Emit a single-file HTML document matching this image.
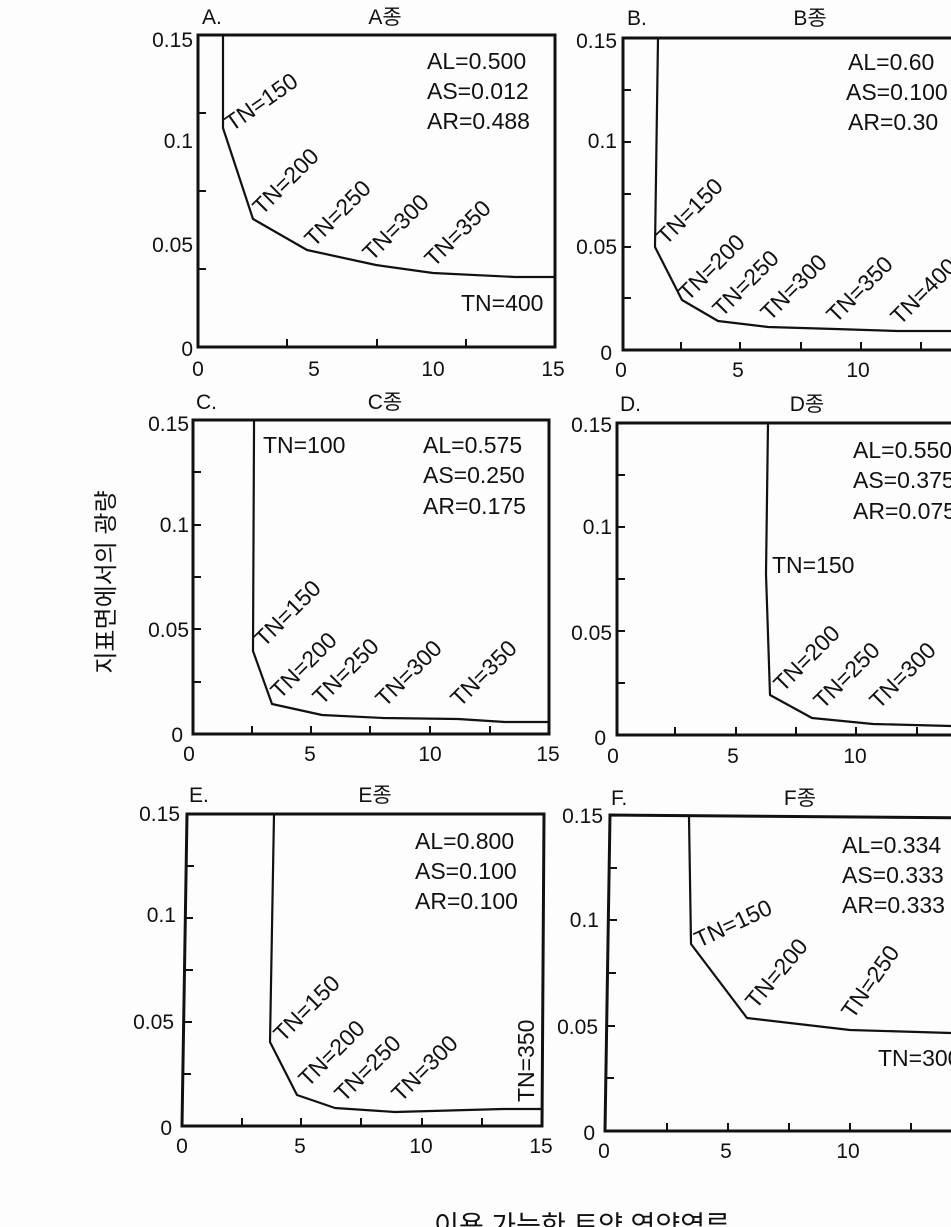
<!DOCTYPE html>
<html><head><meta charset="utf-8"><style>
html,body{margin:0;padding:0;background:#fff;}
svg{display:block;}
text{font-family:"Liberation Sans","Noto Sans CJK KR",sans-serif;fill:#111;}
.ax{font-size:21px;}
.lb{font-size:23px;}
.ttl{font-size:21px;}
.box{fill:none;stroke:#111;stroke-width:3;}
.cv{fill:none;stroke:#111;stroke-width:2.2;stroke-linejoin:round;}
.tk{stroke:#111;stroke-width:2;}
</style></head><body>
<svg width="951" height="1227" viewBox="0 0 951 1227" xmlns="http://www.w3.org/2000/svg">
<rect width="951" height="1227" fill="#fdfdfd"/>

<!-- Panel A -->
<g>
<text class="ttl" x="202" y="24">A.</text>
<text class="ttl" x="385" y="24" text-anchor="middle">A종</text>
<rect class="box" x="198" y="35" width="357" height="312"/>
<g class="tk">
<line x1="287" y1="347" x2="287" y2="339"/><line x1="377" y1="347" x2="377" y2="339"/><line x1="466" y1="347" x2="466" y2="339"/>
<line x1="198" y1="113" x2="206" y2="113"/><line x1="198" y1="191" x2="206" y2="191"/><line x1="198" y1="269" x2="206" y2="269"/>
</g>
<text class="ax" x="193" y="47" text-anchor="end">0.15</text>
<text class="ax" x="193" y="148" text-anchor="end">0.1</text>
<text class="ax" x="193" y="252" text-anchor="end">0.05</text>
<text class="ax" x="193" y="356" text-anchor="end">0</text>
<text class="ax" x="198" y="376" text-anchor="middle">0</text>
<text class="ax" x="314" y="376" text-anchor="middle">5</text>
<text class="ax" x="433" y="376" text-anchor="middle">10</text>
<text class="ax" x="553" y="376" text-anchor="middle">15</text>
<polyline class="cv" points="223,35 223,128 253,219 307,250 376,265 433,273 515,277 554,277"/>
<text class="lb" x="427" y="69">AL=0.500</text>
<text class="lb" x="427" y="99">AS=0.012</text>
<text class="lb" x="427" y="129">AR=0.488</text>
<text class="lb" x="461" y="311">TN=400</text>
<text class="lb" transform="translate(232,132) rotate(-35)">TN=150</text>
<text class="lb" transform="translate(262,216) rotate(-45)">TN=200</text>
<text class="lb" transform="translate(314,248) rotate(-45)">TN=250</text>
<text class="lb" transform="translate(372,262) rotate(-45)">TN=300</text>
<text class="lb" transform="translate(434,268) rotate(-45)">TN=350</text>
</g>

<!-- Panel B -->
<g>
<text class="ttl" x="627" y="25">B.</text>
<text class="ttl" x="810" y="25" text-anchor="middle">B종</text>
<rect class="box" x="623" y="38" width="360" height="312"/>
<g class="tk">
<line x1="681" y1="350" x2="681" y2="342"/><line x1="740" y1="350" x2="740" y2="342"/><line x1="801" y1="350" x2="801" y2="342"/><line x1="861" y1="350" x2="861" y2="342"/><line x1="921" y1="350" x2="921" y2="342"/>
<line x1="623" y1="90" x2="631" y2="90"/><line x1="623" y1="142" x2="631" y2="142"/><line x1="623" y1="194" x2="631" y2="194"/><line x1="623" y1="247" x2="631" y2="247"/><line x1="623" y1="298" x2="631" y2="298"/>
</g>
<text class="ax" x="617" y="48" text-anchor="end">0.15</text>
<text class="ax" x="617" y="148" text-anchor="end">0.1</text>
<text class="ax" x="617" y="254" text-anchor="end">0.05</text>
<text class="ax" x="612" y="360" text-anchor="end">0</text>
<text class="ax" x="621" y="377" text-anchor="middle">0</text>
<text class="ax" x="738" y="377" text-anchor="middle">5</text>
<text class="ax" x="858" y="377" text-anchor="middle">10</text>
<polyline class="cv" points="658,38 655,247 682,300 718,321 768,327 835,329 898,331 951,331"/>
<text class="lb" x="848" y="70">AL=0.60</text>
<text class="lb" x="846" y="100">AS=0.100</text>
<text class="lb" x="848" y="130">AR=0.30</text>
<text class="lb" transform="translate(666,246) rotate(-45)">TN=150</text>
<text class="lb" transform="translate(688,302) rotate(-45)">TN=200</text>
<text class="lb" transform="translate(722,318) rotate(-45)">TN=250</text>
<text class="lb" transform="translate(770,322) rotate(-45)">TN=300</text>
<text class="lb" transform="translate(836,324) rotate(-45)">TN=350</text>
<text class="lb" transform="translate(900,326) rotate(-45)">TN=400</text>
</g>

<!-- Panel C -->
<g>
<text class="ttl" x="196" y="409">C.</text>
<text class="ttl" x="385" y="409" text-anchor="middle">C종</text>
<rect class="box" x="193" y="420" width="356" height="314"/>
<g class="tk">
<line x1="252" y1="734" x2="252" y2="726"/><line x1="311" y1="734" x2="311" y2="726"/><line x1="370" y1="734" x2="370" y2="726"/><line x1="430" y1="734" x2="430" y2="726"/><line x1="490" y1="734" x2="490" y2="726"/>
<line x1="193" y1="472" x2="201" y2="472"/><line x1="193" y1="525" x2="201" y2="525"/><line x1="193" y1="577" x2="201" y2="577"/><line x1="193" y1="629" x2="201" y2="629"/><line x1="193" y1="682" x2="201" y2="682"/>
</g>
<text class="ax" x="189" y="431" text-anchor="end">0.15</text>
<text class="ax" x="189" y="532" text-anchor="end">0.1</text>
<text class="ax" x="189" y="637" text-anchor="end">0.05</text>
<text class="ax" x="183" y="742" text-anchor="end">0</text>
<text class="ax" x="189" y="761" text-anchor="middle">0</text>
<text class="ax" x="310" y="761" text-anchor="middle">5</text>
<text class="ax" x="430" y="761" text-anchor="middle">10</text>
<text class="ax" x="548" y="761" text-anchor="middle">15</text>
<polyline class="cv" points="254,420 254,430 253,651 272,704 322,715 383,718 458,719 505,722 549,722"/>
<text class="lb" x="263" y="453">TN=100</text>
<text class="lb" x="423" y="453">AL=0.575</text>
<text class="lb" x="423" y="483">AS=0.250</text>
<text class="lb" x="423" y="514">AR=0.175</text>
<text class="lb" transform="translate(264,648) rotate(-45)">TN=150</text>
<text class="lb" transform="translate(280,700) rotate(-45)">TN=200</text>
<text class="lb" transform="translate(322,706) rotate(-45)">TN=250</text>
<text class="lb" transform="translate(385,708) rotate(-45)">TN=300</text>
<text class="lb" transform="translate(460,708) rotate(-45)">TN=350</text>
</g>

<!-- Panel D -->
<g>
<text class="ttl" x="620" y="411">D.</text>
<text class="ttl" x="807" y="411" text-anchor="middle">D종</text>
<rect class="box" x="617" y="423" width="366" height="312"/>
<g class="tk">
<line x1="675" y1="735" x2="675" y2="727"/><line x1="736" y1="735" x2="736" y2="727"/><line x1="796" y1="735" x2="796" y2="727"/><line x1="856" y1="735" x2="856" y2="727"/><line x1="917" y1="735" x2="917" y2="727"/>
<line x1="617" y1="475" x2="625" y2="475"/><line x1="617" y1="527" x2="625" y2="527"/><line x1="617" y1="579" x2="625" y2="579"/><line x1="617" y1="631" x2="625" y2="631"/><line x1="617" y1="683" x2="625" y2="683"/>
</g>
<text class="ax" x="612" y="432" text-anchor="end">0.15</text>
<text class="ax" x="612" y="534" text-anchor="end">0.1</text>
<text class="ax" x="612" y="640" text-anchor="end">0.05</text>
<text class="ax" x="606" y="745" text-anchor="end">0</text>
<text class="ax" x="613" y="763" text-anchor="middle">0</text>
<text class="ax" x="733" y="763" text-anchor="middle">5</text>
<text class="ax" x="855" y="763" text-anchor="middle">10</text>
<polyline class="cv" points="768,423 766,574 770,695 812,718 873,724 951,726"/>
<text class="lb" x="772" y="573">TN=150</text>
<text class="lb" x="853" y="458">AL=0.550</text>
<text class="lb" x="853" y="488">AS=0.375</text>
<text class="lb" x="853" y="519">AR=0.075</text>
<text class="lb" transform="translate(783,693) rotate(-45)">TN=200</text>
<text class="lb" transform="translate(823,710) rotate(-45)">TN=250</text>
<text class="lb" transform="translate(879,710) rotate(-45)">TN=300</text>
</g>

<!-- Panel E -->
<g>
<text class="ttl" x="189" y="802">E.</text>
<text class="ttl" x="375" y="802" text-anchor="middle">E종</text>
<polygon class="box" points="187,814 544,814 542,1126 182,1126"/>
<g class="tk">
<line x1="242" y1="1126" x2="242" y2="1118"/><line x1="301" y1="1126" x2="301" y2="1118"/><line x1="361" y1="1126" x2="361" y2="1118"/><line x1="422" y1="1126" x2="422" y2="1118"/><line x1="482" y1="1126" x2="482" y2="1118"/>
<line x1="186" y1="866" x2="194" y2="866"/><line x1="185" y1="918" x2="193" y2="918"/><line x1="185" y1="970" x2="193" y2="970"/><line x1="184" y1="1022" x2="192" y2="1022"/><line x1="183" y1="1074" x2="191" y2="1074"/>
</g>
<text class="ax" x="180" y="821" text-anchor="end">0.15</text>
<text class="ax" x="176" y="922" text-anchor="end">0.1</text>
<text class="ax" x="174" y="1029" text-anchor="end">0.05</text>
<text class="ax" x="172" y="1135" text-anchor="end">0</text>
<text class="ax" x="182" y="1153" text-anchor="middle">0</text>
<text class="ax" x="300" y="1153" text-anchor="middle">5</text>
<text class="ax" x="421" y="1153" text-anchor="middle">10</text>
<text class="ax" x="541" y="1153" text-anchor="middle">15</text>
<polyline class="cv" points="274,814 270,1042 297,1095 335,1108 395,1112 503,1109 543,1109"/>
<text class="lb" x="415" y="849">AL=0.800</text>
<text class="lb" x="415" y="879">AS=0.100</text>
<text class="lb" x="415" y="909">AR=0.100</text>
<text class="lb" transform="translate(283,1043) rotate(-45)">TN=150</text>
<text class="lb" transform="translate(308,1088) rotate(-45)">TN=200</text>
<text class="lb" transform="translate(344,1103) rotate(-45)">TN=250</text>
<text class="lb" transform="translate(401,1103) rotate(-45)">TN=300</text>
<text class="lb" transform="translate(534,1102) rotate(-90)">TN=350</text>
</g>

<!-- Panel F -->
<g>
<text class="ttl" x="611" y="805">F.</text>
<text class="ttl" x="800" y="805" text-anchor="middle">F종</text>
<polygon class="box" points="610,815 985,818 985,1131 605,1131"/>
<g class="tk">
<line x1="667" y1="1131" x2="667" y2="1123"/><line x1="728" y1="1131" x2="728" y2="1123"/><line x1="789" y1="1131" x2="789" y2="1123"/><line x1="850" y1="1131" x2="850" y2="1123"/><line x1="911" y1="1131" x2="911" y2="1123"/>
<line x1="609" y1="868" x2="617" y2="868"/><line x1="609" y1="920" x2="617" y2="920"/><line x1="608" y1="973" x2="616" y2="973"/><line x1="607" y1="1026" x2="615" y2="1026"/><line x1="606" y1="1078" x2="614" y2="1078"/>
</g>
<text class="ax" x="603" y="823" text-anchor="end">0.15</text>
<text class="ax" x="599" y="927" text-anchor="end">0.1</text>
<text class="ax" x="598" y="1034" text-anchor="end">0.05</text>
<text class="ax" x="595" y="1140" text-anchor="end">0</text>
<text class="ax" x="604" y="1158" text-anchor="middle">0</text>
<text class="ax" x="726" y="1158" text-anchor="middle">5</text>
<text class="ax" x="848" y="1158" text-anchor="middle">10</text>
<polyline class="cv" points="689,817 691,944 747,1018 850,1030 951,1033"/>
<text class="lb" x="842" y="853">AL=0.334</text>
<text class="lb" x="842" y="883">AS=0.333</text>
<text class="lb" x="842" y="913">AR=0.333</text>
<text class="lb" x="878" y="1066">TN=300</text>
<text class="lb" transform="translate(699,948) rotate(-25)">TN=150</text>
<text class="lb" transform="translate(756,1010) rotate(-50)">TN=200</text>
<text class="lb" transform="translate(853,1020) rotate(-55)">TN=250</text>
</g>

<text style="font-size:24px" transform="translate(114,582) rotate(-90)" text-anchor="middle">지표면에서의 광량</text>
<text style="font-size:27px" x="582" y="1235" text-anchor="middle">이용 가능한 토양 영양염류</text>
</svg>
</body></html>
